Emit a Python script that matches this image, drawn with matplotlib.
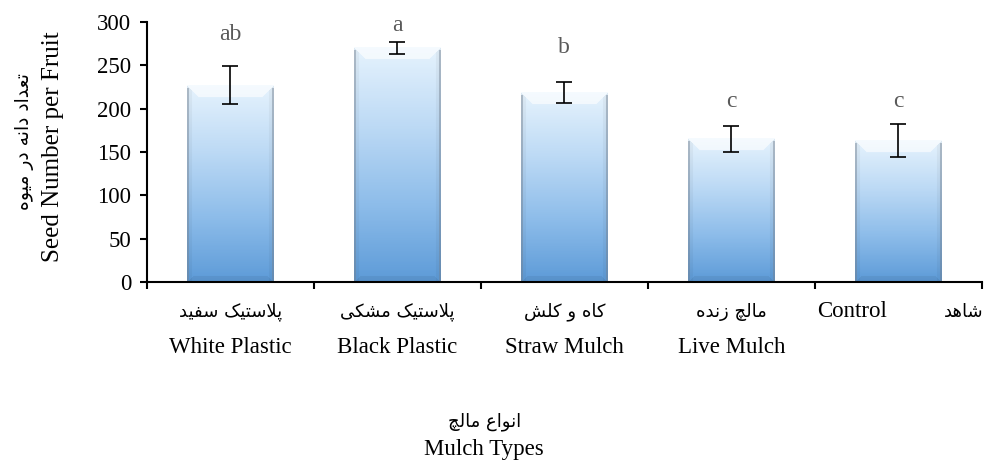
import numpy as np
import matplotlib.pyplot as plt
from matplotlib.colors import LinearSegmentedColormap

# --- data ---
labels_en = ['White Plastic', 'Black Plastic', 'Straw Mulch', 'Live Mulch', 'Control']
labels_fa = ['پلاستیک سفید', 'پلاستیک مشکی', 'کاه و کلش', 'مالچ زنده', 'شاهد']
seeds = [227, 270, 219, 165, 163]
err = [22, 7, 12, 15, 19]
letters = ['ab', 'a', 'b', 'c', 'c']
letter_y = [287, 298, 273, 210, 210]

# simple persian shaping: (isolated, final, initial, medial)
FORMS = {
    'ا': (0xFE8D, 0xFE8E, None, None),
    'پ': (0xFB56, 0xFB57, 0xFB58, 0xFB59),
    'ت': (0xFE95, 0xFE96, 0xFE97, 0xFE98),
    'ج': (0xFE9D, 0xFE9E, 0xFE9F, 0xFEA0),
    'چ': (0xFB7A, 0xFB7B, 0xFB7C, 0xFB7D),
    'د': (0xFEA9, 0xFEAA, None, None),
    'ر': (0xFEAD, 0xFEAE, None, None),
    'ز': (0xFEAF, 0xFEB0, None, None),
    'س': (0xFEB1, 0xFEB2, 0xFEB3, 0xFEB4),
    'ش': (0xFEB5, 0xFEB6, 0xFEB7, 0xFEB8),
    'ع': (0xFEC9, 0xFECA, 0xFECB, 0xFECC),
    'ف': (0xFED1, 0xFED2, 0xFED3, 0xFED4),
    'ک': (0xFB8E, 0xFB8F, 0xFB90, 0xFB91),
    'ل': (0xFEDD, 0xFEDE, 0xFEDF, 0xFEE0),
    'م': (0xFEE1, 0xFEE2, 0xFEE3, 0xFEE4),
    'ن': (0xFEE5, 0xFEE6, 0xFEE7, 0xFEE8),
    'ه': (0xFEE9, 0xFEEA, 0xFEEB, 0xFEEC),
    'و': (0xFEED, 0xFEEE, None, None),
    'ی': (0xFBFC, 0xFBFD, 0xFBFE, 0xFBFF),
}


def shape(s):
    # lam-alef ligature first
    chars = []
    i = 0
    while i < len(s):
        if s[i] == 'ل' and i + 1 < len(s) and s[i + 1] == 'ا':
            chars.append('لا')
            i += 2
        else:
            chars.append(s[i])
            i += 1

    def joins_left(c):
        if c == 'لا':
            return False
        return c in FORMS and FORMS[c][2] is not None

    def joins_right(c):
        return c in FORMS or c == 'لا'

    out = []
    for k, c in enumerate(chars):
        prev = chars[k - 1] if k > 0 else ' '
        nxt = chars[k + 1] if k + 1 < len(chars) else ' '
        from_prev = joins_left(prev) and joins_right(c)
        to_next = joins_left(c) and joins_right(nxt)
        if c == 'لا':
            out.append(chr(0xFEFC if from_prev else 0xFEFB))
            continue
        if c not in FORMS:
            out.append(c)
            continue
        iso, fin, ini, med = FORMS[c]
        if from_prev and to_next:
            out.append(chr(med))
        elif from_prev:
            out.append(chr(fin))
        elif to_next:
            out.append(chr(ini))
        else:
            out.append(chr(iso))
    return ''.join(out[::-1])


serif = 'Liberation Serif'
fa_font = 'DejaVu Sans'
en_size = 16.5
fa_size = 13

fig = plt.figure(figsize=(9.84, 4.72), dpi=100)
ax = fig.add_axes([0.149, 0.4025, 0.849, 0.551])

x = np.arange(len(seeds))
ax.set_xlim(-0.5, len(seeds) - 0.5)
ax.set_ylim(0, 300)

bars = ax.bar(x, seeds, width=0.52, color='none', edgecolor='none', zorder=2)

fig.canvas.draw()
px_x = ax.transData.transform((1, 0))[0] - ax.transData.transform((0, 0))[0]
px_y = ax.transData.transform((0, 1))[1] - ax.transData.transform((0, 0))[1]

cmap = LinearSegmentedColormap.from_list(
    'bar', ['#5d9bd8', '#8ebdea', '#bddaf5', '#e6f3fd'])

for b in bars:
    x0, w, h = b.get_x(), b.get_width(), b.get_height()
    nw = int(w * px_x)
    nh = int(h * px_y)
    yy, xx = np.mgrid[0:nh, 0:nw]
    # vertical gradient, light at top (row 0)
    t = 1 - yy / max(nh - 1, 1)
    rgb = cmap(t)[..., :3].copy()
    bev = 12
    dl, dr, dt, db = xx, nw - 1 - xx, yy, nh - 1 - yy
    top = (dt < bev) & (dt <= dl) & (dt <= dr)
    side = ((dl < 5) | (dr < 5)) & ~top
    bot = (db < 6) & (db < dl) & (db < dr)
    rgb[top] = rgb[top] * 0.4 + 0.6
    rgb[side] = rgb[side] * 0.96
    rgb[bot] = rgb[bot] * 0.94
    edge = ((dl < 2) | (dr < 2)) & (dt > 2)
    rgb[edge] = rgb[edge] * 0.55 + 0.45 * np.array([0.45, 0.5, 0.56])
    ax.imshow(rgb, extent=(x0, x0 + w, 0, h), aspect='auto',
              interpolation='bilinear', zorder=2)

ax.set_xlim(-0.5, len(seeds) - 0.5)
ax.set_ylim(0, 300)

ax.errorbar(x, seeds, yerr=err, fmt='none', ecolor='black',
            elinewidth=1.2, capsize=6, capthick=1.2, zorder=3)

for i, s in enumerate(letters):
    ax.text(x[i], letter_y[i] - 2, s, ha='center', va='center',
            fontsize=17, family=serif, color='#595959')

for side in ['top', 'right']:
    ax.spines[side].set_visible(False)
ax.spines['left'].set_linewidth(1.5)
ax.spines['bottom'].set_linewidth(1.5)

ax.set_yticks(np.arange(0, 301, 50))
ax.set_yticklabels([str(v) for v in range(0, 301, 50)], family=serif, fontsize=16.5)
ax.set_xticks(np.arange(-0.5, len(seeds), 1.0))
ax.set_xticklabels([])
ax.tick_params(axis='both', direction='out', length=5, width=1.5, pad=6)

trans = ax.get_xaxis_transform()
for i in range(4):
    ax.text(x[i], -0.115, shape(labels_fa[i]), transform=trans, ha='center',
            va='center', fontsize=fa_size, family=fa_font, clip_on=False)
    ax.text(x[i], -0.25, labels_en[i], transform=trans, ha='center',
            va='center', fontsize=en_size, family=serif, clip_on=False)
# control label sits on one line with its persian name
ax.text(x[4] - 0.28, -0.115, labels_en[4], transform=trans, ha='center',
        va='center', fontsize=en_size, family=serif, clip_on=False)
fig.text(0.999, 0.339, shape(labels_fa[4]), ha='right', va='center',
         fontsize=fa_size, family=fa_font)

fig.text(0.492, 0.106, shape('انواع مالچ'), ha='center', va='center',
         fontsize=fa_size, family=fa_font)
fig.text(0.492, 0.047, 'Mulch Types', ha='center', va='center',
         fontsize=en_size, family=serif)

fig.text(0.054, 0.69, 'Seed Number per Fruit', rotation=90, ha='center',
         va='center', fontsize=18, family=serif)
fig.text(0.025, 0.70, shape('تعداد دانه در میوه'), rotation=90, ha='center',
         va='center', fontsize=fa_size + 0.5, family=fa_font)

fig.savefig('out.png', dpi=100)
